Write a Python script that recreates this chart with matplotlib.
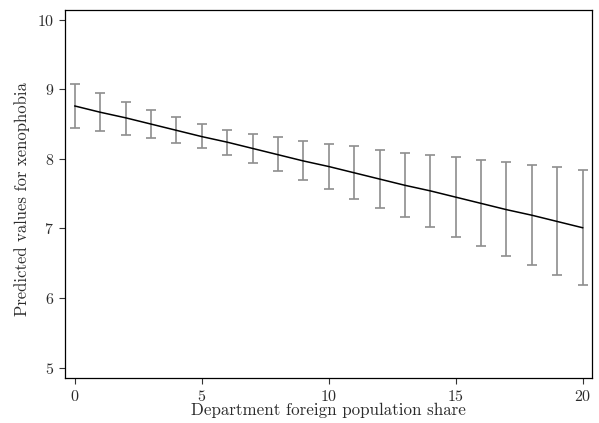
import numpy as np
import matplotlib
matplotlib.use("Agg")
from matplotlib import pyplot as plt

# ======== Data ========
share = [0, 1, 2, 3, 4, 5, 6, 7, 8, 9, 10, 11, 12, 13, 14, 15, 16, 17, 18, 19, 20]
predicted = [8.76, 8.67, 8.59, 8.50, 8.41, 8.32, 8.24, 8.15, 8.06, 7.97, 7.89,
             7.80, 7.71, 7.62, 7.54, 7.45, 7.36, 7.27, 7.19, 7.10, 7.01]
upper = [9.07, 8.94, 8.82, 8.70, 8.60, 8.50, 8.42, 8.36, 8.31, 8.25, 8.21,
         8.18, 8.13, 8.09, 8.06, 8.02, 7.98, 7.95, 7.91, 7.88, 7.84]
lower = [8.45, 8.40, 8.35, 8.30, 8.23, 8.15, 8.05, 7.94, 7.82, 7.70, 7.56,
         7.43, 7.30, 7.16, 7.02, 6.88, 6.75, 6.61, 6.47, 6.33, 6.19]
x_ticks = [0, 5, 10, 15, 20]
y_ticks = [5, 6, 7, 8, 9, 10]

# ======== Style ========
plt.rcParams['font.family'] = ['cmr10', 'DejaVu Serif']
plt.rcParams['axes.formatter.use_mathtext'] = True
plt.rcParams['mathtext.fontset'] = 'cm'
txt = '#2b2b2b'

fig = plt.figure(figsize=(5.99, 4.23), dpi=100)
ax = fig.add_axes([65 / 599, 1 - 378 / 423, 527 / 599, 368 / 423])

pred = np.array(predicted)
yerr = np.vstack([pred - np.array(lower), np.array(upper) - pred])
ax.errorbar(share, pred, yerr=yerr, fmt='none', ecolor='#8e8e8e',
            elinewidth=1.2, capsize=3.5, capthick=1.2)
ax.plot(share, predicted, color='black', lw=1.1)

ax.set_xlim(-0.39, 20.37)
ax.set_ylim(4.85, 10.14)
ax.set_xticks(x_ticks)
ax.set_yticks(y_ticks)
ax.tick_params(axis='both', labelsize=11.5, length=4, width=0.8,
               color='#333333', labelcolor=txt, pad=4)

ax.set_xlabel("Department foreign population share", fontsize=12.2,
              labelpad=-1, color=txt)
ax.set_ylabel("Predicted values for xenophobia", fontsize=12,
              labelpad=5, color=txt)
ax.yaxis.label.set_y(0.487)
for sp in ax.spines.values():
    sp.set_linewidth(0.9)

fig.savefig("out.png", dpi=100)
